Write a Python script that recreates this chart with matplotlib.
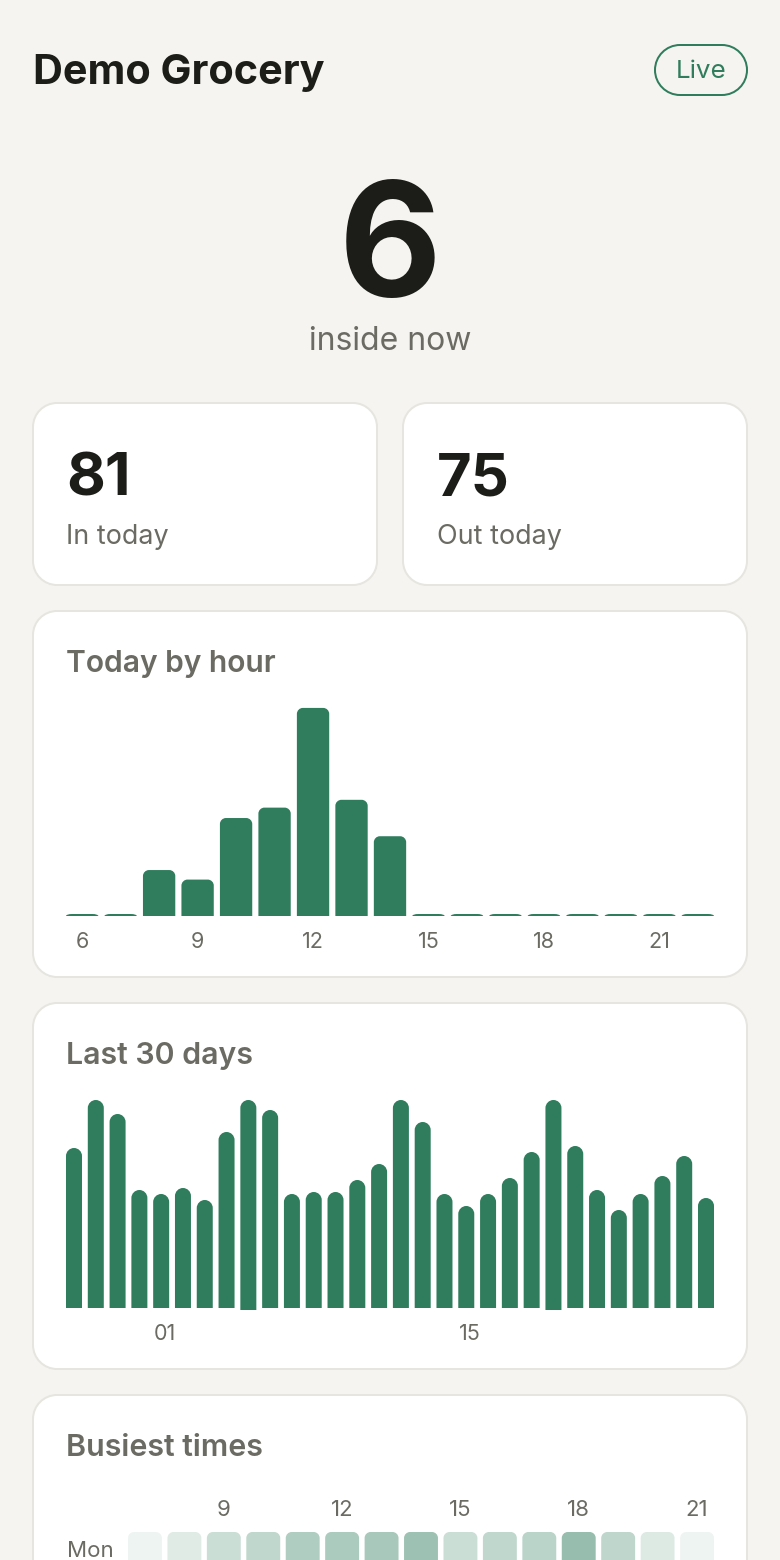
import matplotlib
matplotlib.use("Agg")
import matplotlib.pyplot as plt
from matplotlib.patches import PathPatch
from matplotlib.path import Path

plt.rcParams["font.family"] = ["Inter", "DejaVu Sans"]

# --- data
store_name = "Demo Grocery"
status = "Live"
inside_now = 6
in_today = 81
out_today = 75

hours = list(range(6, 23))
hour_counts = [0, 0, 5.3, 4.2, 11.3, 12.5, 24, 13.4, 9.2, 0, 0, 0, 0, 0, 0, 0, 0]
hour_ticks = [6, 9, 12, 15, 18, 21]

month_counts = [80, 104, 97, 59, 57, 60, 54, 88, 104, 99, 57, 58, 58, 64, 72,
                104, 93, 57, 51, 57, 65, 78, 104, 81, 59, 49, 57, 66, 76, 55]
month_ticks = [4.18, 18.16]
month_tick_labels = ["01", "15"]
month_overhang = [8, 22]

heat_hours = list(range(7, 22))
heat_ticks = [9, 12, 15, 18, 21]
heat_days = ["Mon"]
heat_mon = [0.08, 0.15, 0.25, 0.30, 0.38, 0.40, 0.42, 0.47, 0.25, 0.30, 0.33, 0.50, 0.31, 0.16, 0.08]

# --- colours
BG = "#f5f4f0"
BORDER = "#e6e5df"
GREEN = "#2f7d5d"
INK = "#1c1c18"
MUTED = "#6b6b63"


def px_axes(fig, x0, y0, x1, y1):
    ax = fig.add_axes([x0 / 780, 1 - y1 / 1560, (x1 - x0) / 780, (y1 - y0) / 1560])
    ax.patch.set_alpha(0)
    for s in ax.spines.values():
        s.set_visible(False)
    return ax


def rounded_path(x0, y0, x1, y1, rx, ry, round_bottom=True):
    # y1 is the rounded "top" side; y0 side is square unless round_bottom
    k = 0.5523
    sy = 1 if y1 > y0 else -1
    ry = ry * sy
    verts = []
    codes = []
    if round_bottom:
        verts += [(x0 + rx, y0), (x0 + rx * (1 - k), y0), (x0, y0 + ry * (1 - k)), (x0, y0 + ry)]
        codes += [Path.MOVETO, Path.CURVE4, Path.CURVE4, Path.CURVE4]
    else:
        verts += [(x0, y0)]
        codes += [Path.MOVETO]
    verts += [(x0, y1 - ry), (x0, y1 - ry * (1 - k)), (x0 + rx * (1 - k), y1), (x0 + rx, y1),
              (x1 - rx, y1), (x1 - rx * (1 - k), y1), (x1, y1 - ry * (1 - k)), (x1, y1 - ry)]
    codes += [Path.LINETO, Path.CURVE4, Path.CURVE4, Path.CURVE4,
              Path.LINETO, Path.CURVE4, Path.CURVE4, Path.CURVE4]
    if round_bottom:
        verts += [(x1, y0 + ry), (x1, y0 + ry * (1 - k)), (x1 - rx * (1 - k), y0), (x1 - rx, y0), (x0 + rx, y0)]
        codes += [Path.LINETO, Path.CURVE4, Path.CURVE4, Path.CURVE4, Path.CLOSEPOLY]
    else:
        verts += [(x1, y0), (x0, y0)]
        codes += [Path.LINETO, Path.CLOSEPOLY]
    return Path(verts, codes)


def top_round_bar(ax, x, top, width, rx, ry, base=0):
    path = rounded_path(x - width / 2, base, x + width / 2, top, rx, ry, round_bottom=False)
    ax.add_patch(PathPatch(path, fc=GREEN, ec="none"))


def card(ax, x0, y0, x1, y1):
    ax.add_patch(PathPatch(rounded_path(x0, y0, x1, y1, 24, 24), fc="white", ec=BORDER, lw=1.44))


fig = plt.figure(figsize=(7.8, 15.6), dpi=100, facecolor=BG)

page = fig.add_axes([0, 0, 1, 1])
page.set_xlim(0, 780)
page.set_ylim(1560, 0)
page.axis("off")

# --- header
page.text(33, 84, store_name, fontsize=29.8, fontweight="bold", color=INK)
page.add_patch(PathPatch(rounded_path(655, 45, 747, 95, 25, 25), fc="none", ec=GREEN, lw=1.44))
page.text(701, 78, status, fontsize=18.7, color=GREEN, ha="center")

page.text(390, 296, str(inside_now), fontsize=114, fontweight="bold", color=INK, ha="center")
page.text(390, 350, "inside now", fontsize=23, color=MUTED, ha="center")

# --- cards
card(page, 33, 403, 377, 585)
card(page, 403, 403, 747, 585)
card(page, 33, 611, 747, 977)
card(page, 33, 1003, 747, 1369)
card(page, 33, 1395, 747, 1640)

page.text(66, 495, str(in_today), fontsize=43, fontweight="bold", color=INK)
page.text(66, 544, "In today", fontsize=19.4, color=MUTED)
page.text(437, 495, str(out_today), fontsize=43, fontweight="bold", color=INK)
page.text(437, 544, "Out today", fontsize=19.4, color=MUTED)

page.text(66, 672, "Today by hour", fontsize=21.6, fontweight="semibold", color=MUTED)
page.text(66, 1064, "Last 30 days", fontsize=21.8, fontweight="semibold", color=MUTED)
page.text(66, 1456, "Busiest times", fontsize=21.9, fontweight="semibold", color=MUTED)

# --- today by hour
ax = px_axes(fig, 66, 700, 714, 916)
ax.set_xlim(hours[0] - 0.42, hours[-1] + 0.42)
ax.set_ylim(0, 216 / 8.67)
for h, v in zip(hours, hour_counts):
    top_round_bar(ax, h, max(v, 2 / 8.67), 0.84, 6 / 38.5, 6 / 8.67 if v else 2 / 8.67)
ax.set_xticks(hour_ticks, [str(h) for h in hour_ticks])
ax.set_yticks([])
ax.tick_params(axis="x", length=0, pad=11.6, labelsize=15.5, labelcolor=MUTED)

# --- last 30 days, 2px per visit
ax = px_axes(fig, 66, 1096, 714, 1310)
ax.set_xlim(-0.367, len(month_counts) - 1 + 0.367)
ax.set_ylim(-1, 106)
for i, v in enumerate(month_counts):
    top_round_bar(ax, i, v, 0.734, 8 / 21.8, 4, base=-1 if i in month_overhang else 0)
ax.set_xticks(month_ticks, month_tick_labels)
ax.set_yticks([])
ax.tick_params(axis="x", length=0, pad=10.2, labelsize=15.5, labelcolor=MUTED)

# --- busiest times
ax = px_axes(fig, 128, 1532, 714, 1566)
ax.set_xlim(heat_hours[0] - 0.43, heat_hours[-1] + 0.43)
ax.set_ylim(0.5, -0.5)
for h, v in zip(heat_hours, heat_mon):
    cell = rounded_path(h - 0.43, -0.5, h + 0.43, 0.5, 6 / 39.43, 6 / 34)
    ax.add_patch(PathPatch(cell, fc=GREEN, ec="none", alpha=v))
ax.xaxis.tick_top()
ax.set_xticks(heat_ticks, [str(h) for h in heat_ticks])
ax.set_yticks(range(len(heat_days)), heat_days)
ax.tick_params(axis="x", length=0, pad=9, labelsize=16, labelcolor=MUTED)
ax.tick_params(axis="y", length=0, pad=10.2, labelsize=16, labelcolor=MUTED)

fig.savefig("out.png", dpi=100, facecolor=BG)
